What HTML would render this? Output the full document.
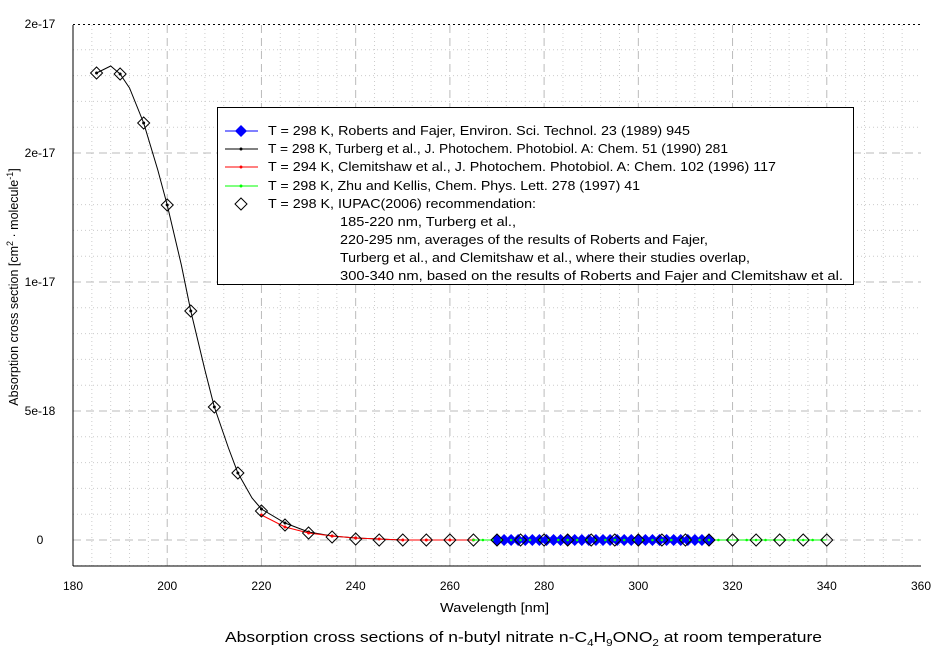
<!DOCTYPE html>
<html><head><meta charset="utf-8"><style>
body{margin:0;background:#fff;}
svg text{font-family:"Liberation Sans",sans-serif;}
</style></head><body>
<svg id="s" width="944" height="655" xmlns="http://www.w3.org/2000/svg" font-size="12">
<rect width="944" height="655" fill="#fff"/>
<g id="grid"></g>
<line x1="73" y1="25" x2="73" y2="566" stroke="#000"/>
<line x1="73" y1="566" x2="921" y2="566" stroke="#000"/>
<line x1="73" y1="24.5" x2="921" y2="24.5" stroke="#000" stroke-dasharray="2,3"/>
<g id="ticks"></g>
<g id="data"></g>
<text x="440" y="612" font-size="13" textLength="109" lengthAdjust="spacingAndGlyphs">Wavelength [nm]</text>
<text transform="translate(18,287) rotate(-90)" text-anchor="middle" font-size="12.5">Absorption cross section [cm<tspan dy="-5" font-size="9">2</tspan><tspan dy="5"> · molecule</tspan><tspan dy="-5" font-size="9">-1</tspan><tspan dy="5">]</tspan></text>
<text x="225" y="642" font-size="15" textLength="597" lengthAdjust="spacingAndGlyphs">Absorption cross sections of n-butyl nitrate n-C<tspan dy="4" font-size="10">4</tspan><tspan dy="-4">H</tspan><tspan dy="4" font-size="10">9</tspan><tspan dy="-4">ONO</tspan><tspan dy="4" font-size="10">2</tspan><tspan dy="-4"> at room temperature</tspan></text>
<g id="leg" font-size="13">
<rect x="217.5" y="107.5" width="636" height="177" fill="#fff" stroke="#000"/>
<line x1="225" y1="131" x2="258" y2="131" stroke="#00f"/><path d="M241 125 L247 131 L241 137 L235 131Z" fill="#00f"/>
<line x1="225" y1="149" x2="258" y2="149" stroke="#000"/><circle cx="241" cy="149" r="1.5"/>
<line x1="225" y1="167" x2="258" y2="167" stroke="#f00"/><circle cx="241" cy="167" r="1.5" fill="#f00"/>
<line x1="225" y1="186" x2="258" y2="186" stroke="#0f0"/><circle cx="241" cy="186" r="1.5" fill="#0f0"/>
<path d="M241 198 L247 204 L241 210 L235 204Z" fill="#fff" stroke="#000"/>
<text x="268" y="135" textLength="422" lengthAdjust="spacingAndGlyphs">T = 298 K, Roberts and Fajer, Environ. Sci. Technol. 23 (1989) 945</text>
<text x="268" y="153" textLength="460" lengthAdjust="spacingAndGlyphs">T = 298 K, Turberg et al., J. Photochem. Photobiol. A: Chem. 51 (1990) 281</text>
<text x="268" y="171" textLength="508" lengthAdjust="spacingAndGlyphs">T = 294 K, Clemitshaw et al., J. Photochem. Photobiol. A: Chem. 102 (1996) 117</text>
<text x="268" y="190" textLength="372" lengthAdjust="spacingAndGlyphs">T = 298 K, Zhu and Kellis, Chem. Phys. Lett. 278 (1997) 41</text>
<text x="268" y="208" textLength="268" lengthAdjust="spacingAndGlyphs">T = 298 K, IUPAC(2006) recommendation:</text>
<text x="340" y="226" textLength="176" lengthAdjust="spacingAndGlyphs">185-220 nm, Turberg et al.,</text>
<text x="340" y="244" textLength="368" lengthAdjust="spacingAndGlyphs">220-295 nm, averages of the results of Roberts and Fajer,</text>
<text x="340" y="262" textLength="410" lengthAdjust="spacingAndGlyphs">Turberg et al., and Clemitshaw et al., where their studies overlap,</text>
<text x="340" y="280" textLength="503" lengthAdjust="spacingAndGlyphs">300-340 nm, based on the results of Roberts and Fajer and Clemitshaw et al.</text>
</g>
</svg>
<script>
const NS="http://www.w3.org/2000/svg";
function el(p,t,a,txt){const e=document.createElementNS(NS,t);for(const k in a)e.setAttribute(k,a[k]);if(txt!==undefined)e.textContent=txt;document.getElementById(p).appendChild(e);return e;}
const X=w=>73+(w-180)*848/180;
const Y=v=>540-v*25.8;
for(let w=184;w<360;w+=4){const x=X(w);const maj=(w-180)%20==0;el('grid','line',{x1:x,y1:25,x2:x,y2:566,stroke:maj?'#bbb':'#ccc','stroke-dasharray':maj?'8,5':'1,3'});}
for(let v=-1;v<=19;v++){const y=Y(v);const maj=v%5==0;el('grid','line',{x1:73,y1:y,x2:921,y2:y,stroke:maj?'#bbb':'#ccc','stroke-dasharray':maj?'8,5':'1,3'});}
for(let w=180;w<=360;w+=20){el('ticks','text',{x:X(w),y:590,'text-anchor':'middle','font-size':12},w);}
const yl=[[0,'0'],[5,'5e-18'],[10,'1e-17'],[15,'2e-17'],[20,'2e-17']];
for(const [v,t] of yl){el('ticks','text',{x:40,y:Y(v)+4,'text-anchor':'middle','font-size':12},t);}
const iu={185:73,190:74,195:123,200:205,205:311,210:407,215:473,220:511,225:525,230:533,235:537,240:539,245:540};
const iw=[];for(let w=185;w<=340;w+=5)iw.push([w,iu[w]!==undefined?iu[w]:540]);
const tb=[[185,73],[188,66],[190,74],[192,88],[195,123],[198,170],[200,205],[203,265],[205,311],[208,370],[210,407],[213,448],[215,473],[218,498],[220,509],[225,523],[230,532],[235,536],[240,538],[245,539],[250,540],[270,540]];
el('data','polyline',{points:tb.map(p=>X(p[0])+','+p[1]).join(' '),fill:'none',stroke:'#000'});
for(const p of tb)if([185,190,195,200,205,210,215,220,225,230,235,240].includes(p[0]))el('data','circle',{cx:X(p[0]),cy:p[1],r:1.5});
const cl=[[220,515],[225,527],[230,533],[235,536],[240,538],[245,539],[250,540],[255,540],[260,540],[265,540]];
el('data','polyline',{points:cl.map(p=>X(p[0])+','+p[1]).join(' '),fill:'none',stroke:'#f00'});
for(const p of cl)el('data','circle',{cx:X(p[0]),cy:p[1],r:1.5,fill:'#f00'});
el('data','line',{x1:X(265),y1:540,x2:X(340),y2:540,stroke:'#0f0'});
el('data','line',{x1:X(270),y1:540,x2:X(315),y2:540,stroke:'#00f'});
for(let w=270;w<=315;w+=1.5){const x=X(w);el('data','path',{d:`M${x} 534 L${x+6} 540 L${x} 546 L${x-6} 540Z`,fill:'#00f'});}
for(let w=265;w<=340;w+=2)el('data','circle',{cx:X(w),cy:540,r:1.3,fill:'#0f0'});
for(const [w,y] of iw){const x=X(w);el('data','path',{d:`M${x} ${y-6} L${x+6} ${y} L${x} ${y+6} L${x-6} ${y}Z`,fill:'none',stroke:'#000'});}
const s=document.getElementById('s');s.appendChild(document.getElementById('leg'));
</script>
</body></html>
